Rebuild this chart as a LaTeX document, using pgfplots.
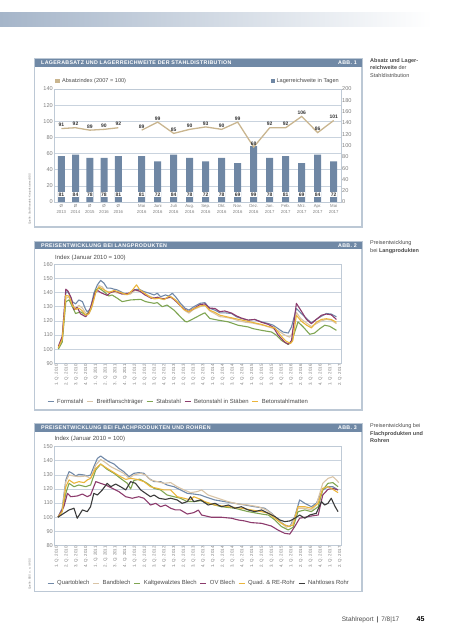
\documentclass[border=0pt]{standalone}
\usepackage{fontspec}
\setmainfont{Liberation Sans}
\newfontfamily\titlefont[LetterSpace=6]{Liberation Sans}
\usepackage{pgfplots}
\pgfplotsset{compat=1.18}
\usepackage{pgfplotstable}

\definecolor{cTitle}{HTML}{7089A6}
\definecolor{cBox}{HTML}{BCC8D5}
\definecolor{cGrid}{HTML}{C9D3DE}
\definecolor{cFrame}{HTML}{BFCAD6}
\definecolor{cTick}{HTML}{7D7D7D}
\definecolor{cText}{HTML}{4A4A4A}
\definecolor{cBar}{HTML}{6F87A4}
\definecolor{cLine}{HTML}{C9B58F}
\definecolor{cVal}{HTML}{333333}
\definecolor{sBlue}{HTML}{7189A8}
\definecolor{sTan}{HTML}{D9C4A6}
\definecolor{sGreen}{HTML}{7FA552}
\definecolor{sPurple}{HTML}{8C3B6C}
\definecolor{sYellow}{HTML}{EBB53B}
\definecolor{sBlack}{HTML}{3B3B3B}
\definecolor{cBanner}{HTML}{A5B5C9}

\pgfplotstableread{
pos la lr
61.3 91 81
75.5 92 84
89.8 89 78
104.0 90 78
118.3 92 81
141.7 89 81
157.7 99 72
173.7 85 84
189.7 90 78
205.7 93 72
221.7 90 78
237.7 99 69
253.7 68 99
269.7 92 78
285.7 92 81
301.7 106 69
317.7 86 84
333.7 101 72
}\dataA

\pgfplotstableread{
pos la
61.3 91
75.5 92
89.8 89
104.0 90
118.3 92
130 nan
141.7 89
157.7 99
173.7 85
189.7 90
205.7 93
221.7 90
237.7 99
253.7 68
269.7 92
285.7 92
301.7 106
317.7 86
333.7 101
}\dataL

\pgfplotsset{
  base/.style={scale only axis, anchor=south west,
    axis line style={draw=cFrame, line width=0.7pt},
    major grid style={draw=cGrid, line width=0.6pt},
    tick style={draw=none},
    /pgf/number format/assume math mode=true,
    yticklabel style={font=\fontsize{5.6}{6}\selectfont, text=cTick, inner sep=1pt},
  },
  qticks/.style={xtick={0,3,...,87},
    xticklabels={1. Q. 2010, 2. Q. 2010, 3. Q. 2010, 4. Q. 2010, 1. Q. 2011, 2. Q. 2011, 3. Q. 2011, 4. Q. 2011, 1. Q. 2012, 2. Q. 2012, 3. Q. 2012, 4. Q. 2012, 1. Q. 2013, 2. Q. 2013, 3. Q. 2013, 4. Q. 2013, 1. Q. 2014, 2. Q. 2014, 3. Q. 2014, 4. Q. 2014, 1. Q. 2015, 2. Q. 2015, 3. Q. 2015, 4. Q. 2015, 1. Q. 2016, 2. Q. 2016, 3. Q. 2016, 4. Q. 2016, 1. Q. 2017, 2. Q. 2017},
    xticklabel style={rotate=90, anchor=east, font=\fontsize{4.4}{5}\selectfont, text=cTick, inner sep=1pt},
    xmin=-0.83, xmax=87.3, ymajorgrids,
    legend style={draw=none, fill=none, inner sep=0pt, font=\fontsize{5.9}{7}\selectfont, text=cText, column sep=1pt},
    legend image code/.code={\draw[##1, line width=1.3pt] (0pt,0pt) -- (6pt,0pt);},
  },
  ser/.style={#1, line width=1.1pt, no marks, line join=round},
}

\begin{document}
\begin{tikzpicture}[x=1pt,y=1pt]
\path[use as bounding box] (0,0) rectangle (453,640);
\shade[left color=cBanner, right color=white] (0,613.3) rectangle (432,627.3);

% ================= Chart 1 =================
\draw[cBox, line width=1.1pt] (34.5,413) rectangle (362,581);
\fill[cTitle] (34.5,573) rectangle (362,581);
\node[anchor=west, text=white, inner sep=0] at (41,577) {\titlefont\bfseries\fontsize{5.3}{6}\selectfont LAGERABSATZ UND LAGERREICHWEITE DER STAHLDISTRIBUTION};
\node[anchor=east, text=white, inner sep=0] at (357,577) {\titlefont\bfseries\fontsize{5.3}{6}\selectfont ABB. 1};

\begin{axis}[base, at={(54pt,438pt)}, width=287pt, height=113pt,
  xmin=54, xmax=341, ymin=0, ymax=140, ytick={0,20,...,140}, xtick=\empty, ymajorgrids]
\addplot[draw=none] coordinates {(60,0)};
\end{axis}

\begin{axis}[base, at={(54pt,438pt)}, width=287pt, height=113pt,
  xmin=54, xmax=341, ymin=0, ymax=200, ytick={0,20,...,200}, yticklabel pos=right,
  axis line style={draw=none},
  xtick={61.3,75.5,89.8,104.0,118.3,141.7,157.7,173.7,189.7,205.7,221.7,237.7,253.7,269.7,285.7,301.7,317.7,333.7},
  xticklabels={{Ø\\2013},{Ø\\2014},{Ø\\2015},{Ø\\2016},{Ø\\2016},{Mai\\2016},{Juni\\2016},{Juli\\2016},{Aug.\\2016},{Sep.\\2016},{Okt.\\2016},{Nov.\\2016},{Dez.\\2016},{Jan.\\2017},{Feb.\\2017},{Mrz.\\2017},{Apr.\\2017},{Mai\\2017}},
  xticklabel style={align=center, font=\fontsize{4.3}{6.4}\selectfont, text=cTick, inner sep=1pt, yshift=-1.2pt},
  legend style={at={(axis description cs:1,1.071)}, anchor=east, draw=none, fill=none, inner sep=0pt, font=\fontsize{5.6}{6}\selectfont, text=cText},
  legend image code/.code={\fill[cBar] (0pt,-1.75pt) rectangle (3.5pt,1.75pt);},
]
\addplot[ybar, bar width=7pt, fill=cBar, draw=none] table[x=pos,y=lr]{\dataA};
\addlegendentry{Lagerreichweite in Tagen}
\addplot[draw=none, forget plot, nodes near coords, point meta=explicit, nodes near coords align={center},
  every node near coord/.append style={anchor=center, fill=white, inner sep=0.4pt, minimum width=7pt, font=\bfseries\fontsize{5}{5}\selectfont, text=cVal}]
  table[x=pos, y expr=13.5, meta=lr]{\dataA};
\end{axis}

\begin{axis}[base, at={(54pt,438pt)}, width=287pt, height=113pt,
  xmin=54, xmax=341, ymin=0, ymax=140, hide axis,
  legend style={at={(axis description cs:0.004,1.071)}, anchor=west, draw=none, fill=none, inner sep=0pt, font=\fontsize{5.6}{6}\selectfont, text=cText},
  legend image code/.code={\fill[cLine] (0pt,-1.75pt) rectangle (3.5pt,1.75pt);},
]
\addplot[cLine, line width=1.3pt, unbounded coords=jump, nodes near coords,
  every node near coord/.append style={font=\bfseries\fontsize{5}{5}\selectfont, text=cVal, inner sep=1.2pt}]
  table[x=pos,y=la]{\dataL};
\addlegendentry{Absatzindex (2007 = 100)}
\end{axis}

\node[rotate=90, anchor=west, inner sep=0, font=\fontsize{2.8}{3}\selectfont, text=cTick] at (30,415) {Quelle: Stahlhandels-Konjunkturtest BDS};

\node[anchor=base west, inner sep=0, font=\fontsize{5.5}{6}\selectfont, text=cText] at (370,577.5) {\textbf{Absatz und Lager-}};
\node[anchor=base west, inner sep=0, font=\fontsize{5.5}{6}\selectfont, text=cText] at (370,570) {\textbf{reichweite} der};
\node[anchor=base west, inner sep=0, font=\fontsize{5.5}{6}\selectfont, text=cText] at (370,562.5) {Stahldistribution};

% ================= Chart 2 =================
\draw[cBox, line width=1.1pt] (34.5,230) rectangle (362,398.3);
\fill[cTitle] (34.5,390.8) rectangle (362,398.3);
\node[anchor=west, text=white, inner sep=0] at (41,394.5) {\titlefont\bfseries\fontsize{5.3}{6}\selectfont PREISENTWICKLUNG BEI LANGPRODUKTEN};
\node[anchor=east, text=white, inner sep=0] at (357,394.5) {\titlefont\bfseries\fontsize{5.3}{6}\selectfont ABB. 2};
\node[anchor=west, inner sep=0, font=\fontsize{6}{6}\selectfont, text=cText] at (55,381.7) {Index (Januar 2010 = 100)};

\begin{axis}[base, qticks, at={(54pt,276.7pt)}, width=287pt, height=99pt,
  ymin=90, ymax=160, ytick={90,100,...,160},
  legend columns=5,
  legend style={at={(axis description cs:-0.0254,-0.388)}, anchor=west},
]
\addplot[ser=sBlue] coordinates {(0.5,101) (1.7,108) (2.8,140) (3.3,140.7) (3.8,139) (4.8,133.6) (5.8,132) (6.8,134.8) (7.9,133.6) (8.9,128) (9.4,126.4) (10.4,128.8) (11.4,139.5) (12.5,145.5) (13.5,148.6) (14.5,146.7) (15.5,143.1) (16.6,143.1) (17.6,142.4) (18.6,141.9) (19.6,140.7) (20.6,139.5) (21.7,138.8) (22.7,139.5) (23.7,141.9) (25.2,142.4) (26.8,140.7) (28.5,139.5) (29.9,138.3) (30.9,139.5) (31.9,137.1) (33.4,138.3) (34.4,137.6) (35.5,139.5) (36.5,137.1) (38,132.4) (39.5,128.8) (40.6,127.6) (42.1,130) (44,132.4) (45.5,132.9) (47,128.8) (48.6,127.6) (50.1,125.7) (51.6,125.7) (53.7,125.2) (55.2,122.9) (56.7,121.7) (58.8,120.5) (60.8,121) (62.9,119.3) (65,118.1) (66.5,116.9) (68,114.5) (69.5,112.1) (71.1,111.4) (72.1,115.7) (73.6,128.8) (75.1,125.2) (76.7,121.7) (78.2,118.6) (79.7,121) (81.3,123.3) (82.8,125.2) (84.3,124.8) (85.9,122.9)};
\addlegendentry{Formstahl\hspace{6.5pt}}
\addplot[ser=sTan] coordinates {(0.5,100.5) (1.7,106) (2.8,136) (3.8,137) (4.8,131) (5.8,129) (6.8,131) (7.9,129) (8.9,125.5) (9.9,125) (10.9,130) (11.9,140) (13,145) (14,144) (15,141) (16.5,140.5) (18,140) (19.5,139.5) (21,138.5) (22.7,139) (24,141.5) (25.5,141) (27,139.5) (28.5,137.5) (30,136) (31,137) (32,135.5) (33.5,136) (35,136.5) (36.5,135) (38,130.5) (39.5,127) (40.6,125.5) (42,128) (44,130) (45.5,131) (47,127) (48.6,125) (50,123) (52,122.5) (54,121.5) (56,120) (58,119) (60,118.5) (62,117.5) (64,116.5) (66,115) (68,113) (70,110) (71.5,108.5) (72.3,111) (73.6,126) (75,121.5) (76.7,118.5) (78.2,116) (79.7,118) (81.3,120) (82.8,121) (84.3,120.5) (85.9,118)};
\addlegendentry{Breitflanschträger\hspace{6.5pt}}
\addplot[ser=sGreen] coordinates {(0.5,100) (1.7,105) (2.8,133.6) (3.8,134.8) (4.8,130) (5.8,125.2) (7.4,126.4) (8.9,124) (10.4,127.6) (12,141.9) (13,143.1) (14.5,140.7) (16,137.6) (17,138.3) (18.6,136) (20.1,133.6) (22.7,134.8) (25.8,135.2) (27.3,133.6) (29.9,132.4) (30.9,132.9) (32.4,130) (33.9,131.2) (36,127.6) (38,122.9) (39.5,119.5) (40.1,119.3) (42.1,121.7) (44,124) (45.5,125.7) (47,121.7) (49.6,120.5) (52.7,119.3) (55.7,116.9) (58.8,115.7) (60.3,114.5) (62.9,113.3) (66,112.1) (67.5,109.8) (69,106.2) (71.1,103.3) (72.1,105) (74.1,119.3) (75.7,115.7) (77.7,110.5) (79.2,111.4) (80.8,114.5) (82.3,116.9) (83.8,116.2) (85.9,113.3)};
\addlegendentry{Stabstahl\hspace{6.5pt}}
\addplot[ser=sPurple] coordinates {(0.5,102) (1.7,109) (2.8,142.4) (3.5,141) (4.5,136) (5.3,128) (6.3,129.5) (7.3,125) (8.9,122.9) (9.9,126) (11,134) (11.8,140) (12.6,141.5) (13.5,140) (14.5,139) (15.5,138) (16.5,140) (18,141) (20,139) (22,139.5) (24,142) (25.5,141) (27,138.5) (29,136) (31,136.5) (33,135.5) (35,137) (37,133) (39,128.5) (40.5,126.5) (42,128.5) (44,131.5) (45.5,132) (47,129) (48.6,128.8) (50.1,126.5) (51.6,127) (53.7,125.5) (55.2,123.5) (56.7,122) (58.8,120.5) (60.8,121) (62.9,119) (65,117.5) (66.5,115.5) (68,110) (70,105) (71.1,103.5) (72.1,106) (73.6,132.4) (75.1,127) (76.7,121) (78.2,118) (79.7,121) (81.3,124) (82.8,124.8) (84.3,124.3) (85.9,121)};
\addlegendentry{Betonstahl in Stäben\hspace{6.5pt}}
\addplot[ser=sYellow] coordinates {(0.5,101) (1.7,107) (2.8,138) (3.8,137.5) (4.8,131) (5.8,128) (6.8,129) (7.9,127) (8.9,124) (9.9,125) (10.9,131) (12,140) (13,144) (14.5,142) (16,140) (17.6,141.5) (19.6,140) (21.7,138.5) (23,141) (24.5,145.5) (25.5,142) (27,139.5) (28.5,137) (30,135.5) (31.5,136) (33,135) (34.5,137.5) (35.5,136.5) (37,133.5) (39,128) (40.6,126.5) (42,128.5) (44,130.5) (45.5,131) (47,127.5) (48.6,126) (50.1,124) (52,123) (55,121.5) (57,120.5) (60,119) (62.9,117.5) (65,116) (67,115) (69,109) (70.5,105.5) (71.8,104) (72.5,106) (73.6,124) (75,120) (76.7,117) (78.2,115) (79.7,119) (81.3,121) (82.8,121.5) (84.3,121) (85.9,119)};
\addlegendentry{Betonstahlmatten}
\end{axis}

\node[anchor=base west, inner sep=0, font=\fontsize{5.5}{6}\selectfont, text=cText] at (370,395) {Preisentwicklung};
\node[anchor=base west, inner sep=0, font=\fontsize{5.5}{6}\selectfont, text=cText] at (370,387.5) {bei \textbf{Langprodukten}};

% ================= Chart 3 =================
\draw[cBox, line width=1.1pt] (34.5,48.3) rectangle (362,216);
\fill[cTitle] (34.5,208.3) rectangle (362,216);
\node[anchor=west, text=white, inner sep=0] at (41,212.1) {\titlefont\bfseries\fontsize{5.3}{6}\selectfont PREISENTWICKLUNG BEI FLACHPRODUKTEN UND ROHREN};
\node[anchor=east, text=white, inner sep=0] at (357,212.1) {\titlefont\bfseries\fontsize{5.3}{6}\selectfont ABB. 3};
\node[anchor=west, inner sep=0, font=\fontsize{6}{6}\selectfont, text=cText] at (54.3,200.7) {Index (Januar 2010 = 100)};

\begin{axis}[base, qticks, at={(54pt,94.7pt)}, width=287pt, height=98.6pt,
  ymin=80, ymax=150, ytick={80,90,...,150},
  legend columns=6,
  legend style={at={(axis description cs:-0.0254,-0.385)}, anchor=west},
]
\addplot[ser=sBlue] coordinates {(0.4,100) (1.7,106.3) (2.8,126.4) (3.8,132.3) (4.8,131.1) (5.8,129.2) (6.8,130.4) (8.4,129.9) (9.4,129.2) (10.4,129.9) (11.4,135.8) (12.5,141.7) (13.5,143.4) (14.5,141.7) (16,139.4) (17.6,137.7) (19.1,134.6) (20.6,132.3) (22.2,128.7) (23.7,131.1) (25.2,131.6) (26.8,131.1) (28.3,127.5) (29.9,125.2) (31.9,125.2) (33.9,122.8) (36,121.6) (38,119.3) (40.1,116.9) (42.1,116.4) (44.2,115.7) (45.5,114.5) (48.5,112.2) (51.6,111) (54.7,109.8) (57.8,108.6) (60.8,107.4) (63.9,106.3) (66,102.7) (68,98) (70,94.4) (71.6,93.3) (73.1,100.4) (74.6,112.2) (76.2,109.8) (78.2,107.4) (79.7,109.8) (81.7,119.3) (83.3,121.6) (84.8,121.6) (86.4,119.3)};
\addlegendentry{Quartoblech\hspace{6pt}}
\addplot[ser=sTan] coordinates {(0.4,100) (1.7,105) (2.8,125.2) (3.8,129.9) (5.3,129.2) (6.8,128.7) (8.9,129.2) (10.4,127.5) (12,137) (13.5,141) (15,138.7) (16.6,135.8) (18.6,133.5) (20.6,131.1) (22.2,127.5) (23.7,129.9) (25.8,131.1) (27.3,129.9) (28.8,126.4) (30.9,125.2) (32.9,124) (35,124.5) (37,121.6) (39.1,119.3) (41.1,117.4) (43.1,118.1) (44.5,119.3) (46.5,115.7) (49.6,113.3) (52.6,111) (55.7,109.3) (58.8,108.6) (61.9,107.4) (64.4,105.1) (66.5,101.5) (68.5,96.8) (70.5,92.8) (72.1,94.4) (74.1,106.3) (76.2,106.3) (78.2,105.1) (79.7,108.6) (81.7,124) (83.3,127.5) (84.8,128.7) (85.9,126.4) (86.6,124.5)};
\addlegendentry{Bandblech\hspace{6pt}}
\addplot[ser=sGreen] coordinates {(0.4,100) (1.7,104) (2.8,116.9) (3.8,124) (5.3,121.6) (6.8,122.8) (8.9,121.6) (10.4,122.8) (12,133.5) (13.5,137.7) (15.5,133.9) (17.6,131.1) (19.6,127.5) (21.7,124) (22.7,120) (23.7,126) (25.5,127) (27.8,124) (29.9,120.4) (31.9,119.3) (33.9,115.7) (36,114.5) (38,113.4) (40.1,111) (42.1,111) (44.2,111.7) (46.5,109.8) (50.6,107.4) (54.7,106.3) (58.8,103.9) (62.9,102.2) (65,101.5) (67,98) (69,93.3) (71.1,90.9) (72.6,92.8) (74.1,103.9) (76.2,105.1) (78.2,103.9) (80.3,107.4) (81.7,119.3) (83.3,124) (84.8,124.5) (86.4,121.6)};
\addlegendentry{Kaltgewalztes Blech\hspace{6pt}}
\addplot[ser=sPurple] coordinates {(0.4,100) (2.2,107.4) (3.3,116.9) (4.3,114.5) (6.3,115) (7.9,116.4) (9.4,114.5) (10.4,115.7) (12,125.2) (13.5,124) (15,122.8) (17.1,120.4) (19.1,118.1) (21.2,114.5) (23.2,113.4) (25.2,114.5) (26.8,113.4) (28.8,108.6) (30.4,109.8) (31.9,107.4) (33.4,108.6) (35,106.3) (36.5,105.1) (38,105.1) (40.1,102.2) (42.1,103.2) (43.5,105) (44.5,101.5) (47.5,99.9) (50.6,99.9) (53.7,99.2) (55.7,98) (57.7,97.3) (59.8,96.1) (62.9,95.6) (65.9,93.7) (67.9,90.9) (70,88.5) (71.6,88) (73.1,93.3) (74.6,99.2) (76.2,99.9) (78.2,100.8) (80.3,101.5) (81.7,115.7) (83.3,119.7) (84.8,120.4) (86.4,119.3)};
\addlegendentry{OV Blech\hspace{6pt}}
\addplot[ser=sYellow] coordinates {(0.4,100) (1.7,104) (2.8,121.6) (3.8,126.4) (5.3,124) (6.8,125.2) (8.4,124.5) (9.4,126.4) (10.4,127.5) (12,134.6) (13.5,137.7) (15.5,134.6) (17.6,131.6) (19.6,128.7) (21.2,126.8) (22.7,127.5) (24.7,126.8) (26.8,125.2) (28.8,121.6) (30.9,120.4) (32.9,119.3) (35,119.3) (37,114.5) (39.1,113.4) (41.1,112.2) (42.1,114.5) (44.2,112.6) (45.5,111) (48.6,108.6) (52.7,107.4) (56.7,106.3) (59.8,105.1) (62.9,103.9) (65,102.7) (67,99.2) (69,95.6) (71.1,93.3) (72.6,94.4) (74.1,107.4) (76.2,107.4) (78.2,106.3) (80.3,109.8) (81.7,120.4) (83.3,121.6) (84.8,119.7) (86.4,117.4)};
\addlegendentry{Quad. \& RE-Rohr\hspace{6pt}}
\addplot[ser=sBlack] coordinates {(0.4,100) (2.2,102.7) (3.8,105.1) (5.3,106.3) (6.3,99.2) (7.9,105.1) (9.4,103.9) (10.4,107.4) (11.4,116.9) (12.5,115.7) (14,119.3) (15.5,124) (16.6,121.6) (18.1,123.5) (19.6,121.6) (21.2,119.3) (22.7,125.2) (24.2,124) (25.8,119.3) (27.3,116.9) (28.8,114.5) (29.9,115.7) (31.4,113.4) (33.4,112.6) (35,113.4) (37,112.2) (38.5,109.8) (40.1,111) (41.1,114.5) (42.1,111) (44.2,112.2) (46.5,108.6) (48.6,109.8) (50.6,107.4) (52.7,108.6) (54.7,106.3) (56.7,107.4) (58.8,105.1) (60.8,103.9) (62.9,105.1) (65,102.7) (67,100.4) (68.5,98) (70,96.8) (71.6,97.3) (73.1,99.2) (74.6,101.5) (76.2,99.2) (77.7,101.5) (79.7,102.7) (81.3,111) (82.3,108.6) (83.3,109.8) (84.3,113.4) (85.5,107.4) (86.4,103.9)};
\addlegendentry{Nahtloses Rohr}
\end{axis}

\node[rotate=90, anchor=west, inner sep=0, font=\fontsize{2.8}{3}\selectfont, text=cTick] at (30,50) {Quelle: BDS u. a. / WDS};

\node[anchor=base west, inner sep=0, font=\fontsize{5.5}{6}\selectfont, text=cText] at (370,212.3) {Preisentwicklung bei};
\node[anchor=base west, inner sep=0, font=\fontsize{5.5}{6}\selectfont, text=cText] at (370,204.7) {\textbf{Flachprodukten und}};
\node[anchor=base west, inner sep=0, font=\fontsize{5.5}{6}\selectfont, text=cText] at (370,197) {\textbf{Rohren}};

% footer
\node[anchor=base west, inner sep=0, font=\fontsize{6.5}{7}\selectfont, text=cText] at (341.7,18.5) {Stahlreport \textbf{\,|\,} 7/8|17};
\node[anchor=base west, inner sep=0, font=\bfseries\fontsize{7}{7}\selectfont, text=black] at (416.5,18.5) {45};
\end{tikzpicture}
\end{document}
